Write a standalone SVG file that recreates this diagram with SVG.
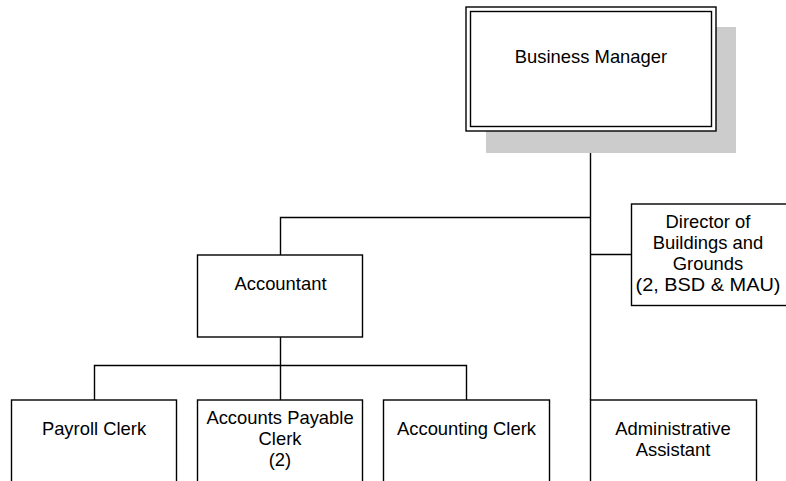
<svg xmlns="http://www.w3.org/2000/svg" width="786" height="481" viewBox="0 0 786 481">
  <style>
    .box { fill: #ffffff; stroke: #000000; stroke-width: 1.4; }
    .shadow { fill: #cccccc; stroke: none; }
    .label { font-family: "Liberation Sans", Arial, sans-serif; font-size: 18.4px; fill: #000000; text-anchor: middle; }
    .conn { fill: none; stroke: #000000; stroke-width: 1.4; }
  </style>
  <rect width="786" height="481" fill="#ffffff"/>

  <!-- connectors -->
  <g id="connectors">
    <path class="conn" d="M590.5 130 V400"/>
    <path class="conn" d="M590.5 217.5 H280.5 V255"/>
    <path class="conn" d="M590.5 254.5 H631.5"/>
    <path class="conn" d="M280.5 337 V365.5"/>
    <path class="conn" d="M94.5 400 V365.5 H466.5 V400"/>
    <path class="conn" d="M280.5 365.5 V400"/>
  </g>

  <g id="business-manager">
    <rect class="shadow" x="486" y="27" width="250" height="126"/>
    <rect class="box" x="466" y="7" width="250" height="124"/>
    <rect class="box" x="470.5" y="11.5" width="241" height="115"/>
    <text class="label" x="591" y="63">Business Manager</text>
  </g>

  <g id="accountant">
    <rect class="box" x="197.5" y="255" width="165" height="82"/>
    <text class="label" x="280.5" y="290">Accountant</text>
  </g>

  <g id="director-buildings-grounds">
    <rect class="box" x="631.5" y="204" width="156" height="101.5"/>
    <text class="label" x="708" y="228">Director of</text>
    <text class="label" x="708" y="249">Buildings and</text>
    <text class="label" x="708" y="270">Grounds</text>
    <text class="label" x="708" y="291" textLength="145" lengthAdjust="spacingAndGlyphs">(2, BSD &amp; MAU)</text>
  </g>

  <g id="payroll-clerk">
    <rect class="box" x="11.5" y="400" width="165" height="90"/>
    <text class="label" x="94" y="435">Payroll Clerk</text>
  </g>

  <g id="accounts-payable-clerk">
    <rect class="box" x="197.5" y="400" width="165" height="90"/>
    <text class="label" x="280" y="424">Accounts Payable</text>
    <text class="label" x="280" y="445">Clerk</text>
    <text class="label" x="280" y="466">(2)</text>
  </g>

  <g id="accounting-clerk">
    <rect class="box" x="383.5" y="400" width="166" height="90"/>
    <text class="label" x="466.5" y="435">Accounting Clerk</text>
  </g>

  <g id="administrative-assistant">
    <rect class="box" x="590.5" y="400" width="166" height="90"/>
    <text class="label" x="673" y="435">Administrative</text>
    <text class="label" x="673" y="456">Assistant</text>
  </g>
</svg>
